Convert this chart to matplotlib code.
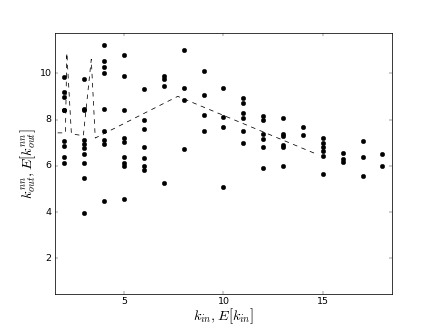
import matplotlib
matplotlib.use("Agg")
import matplotlib.pyplot as plt

plt.style.use('classic')

# scatter data: k_in values and corresponding k_out^nn values
k_in_vals = [2, 3, 4, 5, 6, 7, 8, 9, 10, 11, 12, 13, 14, 15, 16, 17, 18]
k_out_groups = [
    [9.83, 9.21, 8.96, 8.43, 8.39, 7.09, 6.87, 6.37, 6.11],
    [9.73, 8.46, 8.42, 7.12, 6.95, 6.78, 6.49, 6.14, 5.48, 3.98],
    [11.24, 10.51, 10.26, 10.0, 8.44, 7.49, 7.12, 6.95, 4.47],
    [10.79, 9.86, 8.39, 7.19, 7.05, 6.37, 6.11, 6.01, 4.57],
    [9.31, 7.99, 7.60, 6.82, 6.33, 6.0, 5.83],
    [9.86, 9.76, 9.43, 5.27],
    [11.02, 9.35, 8.85, 6.73],
    [10.09, 9.04, 8.2, 7.52],
    [9.38, 8.13, 7.67, 5.08],
    [8.94, 8.70, 8.29, 8.07, 7.52, 6.97],
    [8.16, 7.99, 7.38, 7.15, 6.80, 5.90],
    [8.06, 7.38, 7.27, 6.91, 6.83, 5.98],
    [7.67, 7.34],
    [7.19, 6.99, 6.80, 6.66, 6.44, 5.65],
    [6.55, 6.31, 6.16],
    [7.09, 6.40, 5.56],
    [6.49, 5.98],
]

# expected-value curve
e_k_in = [1.2, 2.05, 2.12, 2.35, 2.95, 3.35, 3.55, 7.7, 14.7]
e_k_out = [7.43, 7.42, 10.88, 7.38, 7.30, 10.60, 7.20, 9.0, 6.5]

xs, ys = [], []
for k, grp in zip(k_in_vals, k_out_groups):
    for v in grp:
        xs.append(k)
        ys.append(v)

fig = plt.figure(figsize=(8, 6), dpi=54.5)
ax = fig.add_subplot(111)
ax.plot(xs, ys, 'ko', markersize=6, markeredgecolor='k')
ax.plot(e_k_in, e_k_out, 'k--')
ax.set_xlim(1.5, 18.5)
ax.set_ylim(0.45, 11.75)
ax.set_xticks([5, 10, 15])
ax.set_yticks([2, 4, 6, 8, 10])
ax.tick_params(labelsize=12.5)
ax.set_xlabel(r'$k_{in}, E[k_{in}]$', fontsize=19, labelpad=0)
ax.set_ylabel(r'$k_{out}^{nn}, E[k_{out}^{nn}]$', fontsize=19, labelpad=2)
fig.savefig('out.png', dpi=54.5)
